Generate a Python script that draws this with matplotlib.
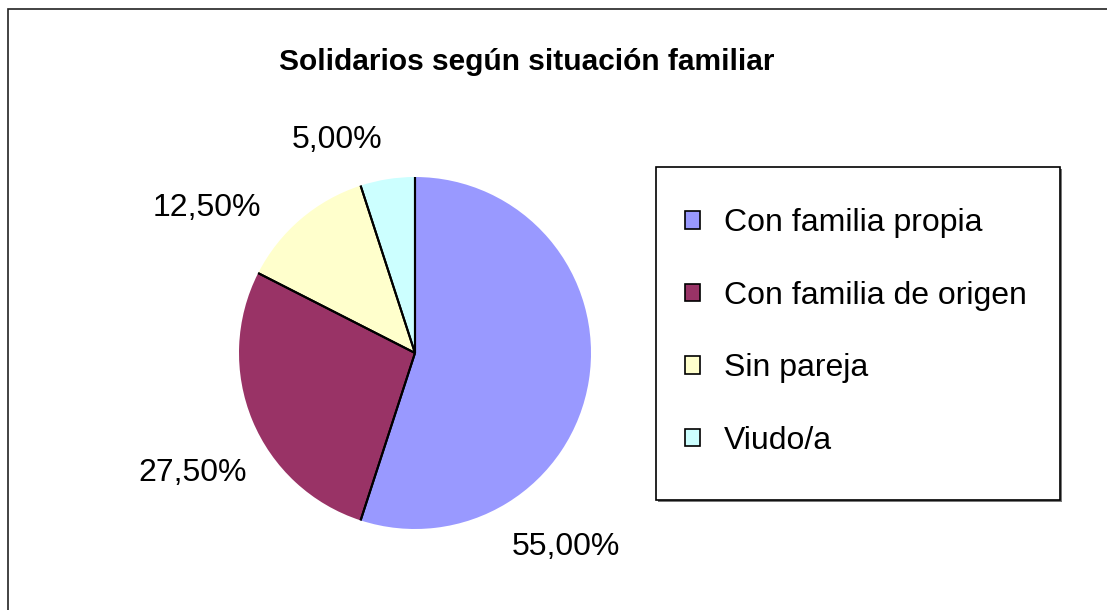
import numpy as np
import matplotlib.pyplot as plt
from matplotlib.patches import Rectangle, Patch

# data
categories = ["Con familia propia", "Con familia de origen", "Sin pareja", "Viudo/a"]
values = [55.0, 27.5, 12.5, 5.0]
pct_labels = ["55,00%", "27,50%", "12,50%", "5,00%"]
colors = ["#9999FF", "#993366", "#FFFFCC", "#CCFFFF"]
title = "Solidarios según situación familiar"

# label spots (pie radius units), as excel put them
label_pos = [(0.858, -1.102), (-1.261, -0.682), (-1.182, 0.824), (-0.443, 1.21)]

plt.rcParams['font.family'] = ['Liberation Sans', 'DejaVu Sans']

W, H = 1107, 610
fig = plt.figure(figsize=(W / 100, H / 100), dpi=100)

# outer chart frame (cut at right/bottom like the screenshot)
fig.patches.append(Rectangle((8 / W, -0.1), 1.2, (H - 9) / H + 0.1,
                             transform=fig.transFigure, fill=False,
                             edgecolor="#222222", lw=1.2))

fig.text(527 / W, 1 - 62 / H, title, ha="center", va="center",
         fontsize=21.5, fontweight="bold")

cx, cy, r = 415, 353, 176
ax = fig.add_axes([(cx - r) / W, (H - cy - r) / H, 2 * r / W, 2 * r / H])
wedges, _ = ax.pie(values, colors=colors, startangle=90, counterclock=False,
                   wedgeprops=dict(edgecolor="none"))
ax.set_xlim(-1, 1)
ax.set_ylim(-1, 1)
ax.set_aspect("equal")
ax.axis("off")

# black radial separators only
for w in wedges:
    for ang in (w.theta1, w.theta2):
        a = np.deg2rad(ang)
        ax.plot([0, np.cos(a)], [0, np.sin(a)], color="black", lw=1.5,
                solid_capstyle="butt")

for (lx, ly), txt in zip(label_pos, pct_labels):
    ax.text(lx, ly, txt, ha="center", va="center", fontsize=23, clip_on=False)

# legend box
lx0, ly0, lx1, ly1 = 656, 167, 1060, 500
fig.patches.append(Rectangle((lx0 / W + 2 / W, 1 - ly1 / H - 2 / H), (lx1 - lx0) / W,
                             (ly1 - ly0) / H, transform=fig.transFigure,
                             facecolor="#777777", edgecolor="none"))
fig.patches.append(Rectangle((lx0 / W, 1 - ly1 / H), (lx1 - lx0) / W,
                             (ly1 - ly0) / H, transform=fig.transFigure,
                             facecolor="white", edgecolor="black", lw=1.2))

handles = [Patch(facecolor=c, edgecolor="black", lw=1.2) for c in colors]
leg = fig.legend(handles, categories, loc="center left",
                 bbox_to_anchor=(685 / W, 1 - 332 / H), frameon=False,
                 fontsize=23, handlelength=0.47, handleheight=0.47,
                 handletextpad=0.75, labelspacing=1.33, borderpad=0,
                 borderaxespad=0)

fig.savefig("out.png", dpi=100, facecolor="white")
